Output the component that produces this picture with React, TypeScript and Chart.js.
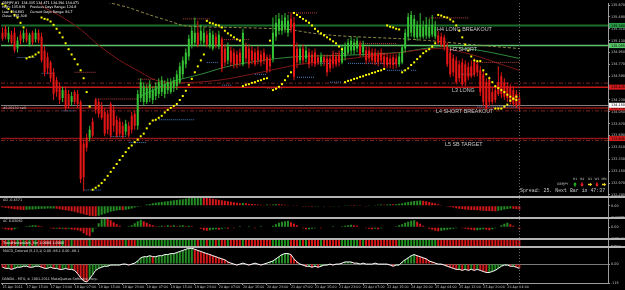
import React, { useEffect, useRef } from "react";
import { Chart, registerables } from "chart.js";

Chart.register(...registerables);

// ---------------- data ----------------
const xTickLabels = [
  "15 Apr 2011", "17 Apr 15:00", "17 Apr 23:00", "18 Apr 07:00", "18 Apr 15:00", "18 Apr 23:00",
  "19 Apr 07:00", "19 Apr 15:00", "19 Apr 23:00", "20 Apr 07:00", "20 Apr 15:00", "20 Apr 23:00",
  "21 Apr 07:00", "21 Apr 15:00", "21 Apr 23:00", "22 Apr 07:00", "22 Apr 15:00", "24 Apr 20:00",
  "25 Apr 04:00", "25 Apr 12:00", "25 Apr 20:00", "26 Apr 04:00",
];
const LABEL_EVERY = 8;
const SLOT_COUNT = 202; // 173 bars + chart shift space
const slotLabels = Array.from({ length: SLOT_COUNT }, (_, i) => String(i));

const barOpen = [
  135.25, 135.31, 135.15, 135.22, 135.25, 135.01, 135.22, 135.16, 135.25, 135.07,
  135.25, 135.15, 135.25, 135.19, 134.98, 134.88, 134.80, 134.65, 134.53, 134.44,
  134.26, 134.38, 134.32, 134.20, 134.35, 134.32, 134.20, 133.57, 133.66, 133.66,
  133.90, 134.23, 134.20, 134.14, 134.05, 134.02, 134.17, 134.08, 133.93, 133.90,
  133.84, 133.75, 133.84, 133.99, 134.02, 133.84, 134.26, 134.20, 134.20, 134.26,
  134.23, 134.29, 134.32, 134.35, 134.32, 134.38, 134.35, 134.41, 134.44, 134.50,
  134.62, 134.77, 134.89, 135.07, 135.10, 135.25, 135.13, 135.10, 135.22, 135.04,
  135.01, 135.19, 135.04, 135.15, 135.01, 134.83, 134.98, 134.95, 134.92, 134.95,
  134.77, 135.04, 135.01, 134.98, 134.95, 134.98, 134.92, 134.95, 134.88, 134.86,
  134.86, 135.19, 135.28, 135.28, 135.31, 135.25, 135.46, 135.40, 135.01, 134.83,
  135.01, 134.86, 134.95, 134.92, 134.95, 134.88, 134.80, 134.88, 134.86, 134.86,
  134.92, 134.89, 134.92, 134.80, 134.89, 134.95, 134.98, 134.98, 135.01, 135.07,
  134.95, 134.98, 134.98, 134.95, 134.95, 134.92, 134.95, 134.89, 134.88, 134.86,
  134.88, 134.86, 134.77, 134.80, 135.01, 135.19, 135.25, 135.19, 135.18, 135.19,
  135.19, 135.21, 135.19, 135.22, 135.19, 135.21, 135.19, 135.18, 135.04, 134.95,
  134.86, 134.83, 134.77, 134.80, 134.77, 134.73, 134.74, 134.80, 134.77, 134.68,
  134.62, 134.50, 134.53, 134.35, 134.38, 134.50, 134.59, 134.50, 134.44, 134.41,
  134.38, 134.32, 134.26,
];
const barHigh = [
  135.33, 135.36, 135.34, 135.28, 135.33, 135.19, 135.28, 135.30, 135.31, 135.25,
  135.28, 135.31, 135.30, 135.25, 135.04, 134.95, 134.83, 134.71, 134.58, 134.50,
  134.43, 134.44, 134.38, 134.35, 134.38, 134.38, 134.23, 133.63, 133.72, 133.84,
  133.96, 134.26, 134.25, 134.20, 134.11, 134.08, 134.20, 134.14, 133.99, 133.96,
  133.90, 133.93, 133.90, 134.05, 134.08, 134.38, 134.56, 134.50, 134.47, 134.53,
  134.44, 134.50, 134.56, 134.59, 134.53, 134.56, 134.56, 134.58, 134.68, 134.80,
  134.89, 135.01, 135.22, 135.34, 135.48, 135.43, 135.37, 135.33, 135.28, 135.31,
  135.28, 135.25, 135.28, 135.19, 135.07, 135.10, 135.04, 135.01, 134.98, 135.01,
  135.31, 135.10, 135.07, 135.04, 135.01, 135.04, 134.98, 135.01, 134.92, 134.92,
  135.48, 135.52, 135.55, 135.52, 135.55, 135.52, 135.54, 135.49, 135.10, 135.07,
  135.07, 135.04, 135.01, 134.98, 135.01, 134.92, 134.95, 134.92, 134.92, 134.92,
  134.98, 134.95, 134.98, 135.07, 135.10, 135.16, 135.19, 135.16, 135.19, 135.13,
  135.13, 135.04, 135.04, 135.01, 135.01, 134.98, 135.01, 134.95, 134.94, 134.92,
  134.92, 134.92, 134.95, 135.07, 135.31, 135.55, 135.58, 135.52, 135.43, 135.55,
  135.43, 135.49, 135.46, 135.52, 135.43, 135.28, 135.25, 135.22, 135.10, 135.01,
  134.92, 134.89, 134.83, 134.86, 134.83, 134.80, 134.83, 134.86, 134.83, 134.74,
  134.68, 134.56, 134.59, 134.41, 134.44, 134.74, 134.65, 134.56, 134.50, 134.47,
  134.44, 134.38, 134.35,
];
const barLow = [
  135.13, 135.15, 135.10, 135.07, 134.95, 134.95, 135.07, 135.10, 135.10, 135.04,
  135.06, 135.10, 135.09, 134.80, 134.59, 134.62, 134.50, 134.23, 134.28, 134.17,
  134.20, 134.08, 134.10, 134.14, 134.16, 134.11, 132.97, 132.85, 133.45, 133.60,
  133.66, 134.02, 133.96, 133.93, 133.68, 133.71, 133.66, 133.75, 133.66, 133.68,
  133.65, 133.69, 133.66, 133.72, 133.78, 133.78, 134.20, 134.14, 134.17, 134.20,
  134.17, 134.23, 134.26, 134.29, 134.26, 134.32, 134.32, 134.35, 134.38, 134.47,
  134.56, 134.71, 134.83, 135.01, 135.04, 135.03, 135.07, 135.04, 135.03, 135.01,
  134.98, 135.01, 135.00, 134.65, 134.74, 134.77, 134.74, 134.71, 134.71, 134.74,
  134.74, 134.80, 134.71, 134.77, 134.74, 134.77, 134.74, 134.77, 134.64, 134.65,
  134.80, 135.13, 135.22, 135.22, 135.25, 135.19, 135.25, 134.53, 134.71, 134.77,
  134.77, 134.80, 134.71, 134.74, 134.73, 134.76, 134.74, 134.74, 134.59, 134.65,
  134.71, 134.73, 134.74, 134.77, 134.83, 134.92, 134.92, 134.92, 134.95, 134.88,
  134.89, 134.77, 134.80, 134.77, 134.76, 134.74, 134.77, 134.71, 134.71, 134.71,
  134.70, 134.71, 134.73, 134.77, 134.95, 135.13, 135.19, 135.16, 135.13, 135.16,
  135.16, 135.16, 135.16, 135.18, 135.15, 135.07, 135.03, 134.98, 134.73, 134.58,
  134.59, 134.47, 134.50, 134.44, 134.44, 134.53, 134.56, 134.58, 134.59, 134.29,
  134.14, 134.08, 134.14, 134.16, 134.19, 134.29, 134.26, 134.23, 134.20, 134.16,
  134.13, 134.11, 134.05,
];
const barClose = [
  135.16, 135.19, 135.25, 135.10, 134.98, 135.13, 135.13, 135.25, 135.13, 135.22,
  135.10, 135.25, 135.13, 134.83, 134.65, 134.71, 134.56, 134.32, 134.35, 134.23,
  134.38, 134.11, 134.14, 134.29, 134.20, 134.17, 133.03, 133.06, 133.51, 133.78,
  133.69, 134.08, 134.02, 133.96, 133.72, 133.78, 133.69, 133.84, 133.69, 133.72,
  133.69, 133.87, 133.69, 133.78, 133.84, 134.32, 134.50, 134.44, 134.41, 134.47,
  134.38, 134.44, 134.50, 134.53, 134.47, 134.50, 134.50, 134.53, 134.62, 134.74,
  134.83, 134.95, 135.16, 135.28, 135.25, 135.07, 135.28, 135.25, 135.07, 135.25,
  135.22, 135.07, 135.22, 134.71, 134.80, 135.04, 134.80, 134.77, 134.77, 134.80,
  135.25, 134.86, 134.77, 134.83, 134.77, 134.83, 134.80, 134.83, 134.68, 134.74,
  135.25, 135.40, 135.46, 135.43, 135.48, 135.43, 135.31, 134.58, 134.80, 135.01,
  134.83, 134.98, 134.77, 134.80, 134.77, 134.80, 134.89, 134.80, 134.65, 134.71,
  134.77, 134.77, 134.80, 135.01, 135.04, 135.10, 135.13, 135.10, 135.13, 134.92,
  135.07, 134.83, 134.86, 134.83, 134.80, 134.80, 134.83, 134.77, 134.76, 134.77,
  134.76, 134.77, 134.89, 135.03, 135.25, 135.49, 135.52, 135.46, 135.37, 135.37,
  135.34, 135.37, 135.34, 135.37, 135.34, 135.10, 135.07, 135.03, 134.77, 134.62,
  134.65, 134.50, 134.56, 134.47, 134.50, 134.58, 134.59, 134.62, 134.65, 134.35,
  134.20, 134.11, 134.20, 134.20, 134.23, 134.32, 134.32, 134.28, 134.26, 134.20,
  134.17, 134.14, 134.15,
];

// Parabolic SAR dots (one per bar)
const sarValues = [
  135.69, 135.66, 135.61, 135.57, 135.52, 135.48, 135.40, 135.33, 134.86, 134.88,
  134.89, 134.92, 134.95, 135.48, 135.46, 135.45, 135.42, 135.37, 135.31, 135.25,
  135.18, 135.09, 135.00, 134.92, 134.85, 134.77, 134.68, 134.56, 134.35, 134.13,
  132.87, 132.90, 132.93, 132.97, 133.02, 133.08, 133.14, 133.20, 133.26, 133.32,
  133.38, 133.44, 133.50, 133.54, 133.59, 133.63, 133.68, 133.72, 133.80, 133.87,
  133.92, 133.93, 133.96, 133.99, 134.04, 134.08, 134.11, 134.14, 134.17, 134.23,
  134.29, 134.37, 134.46, 134.55, 134.65, 134.74, 134.83, 134.92, 135.43, 135.40,
  135.39, 135.37, 135.36, 135.33, 135.28, 135.24, 135.21, 135.18, 135.15, 135.13,
  134.44, 134.46, 134.47, 134.49, 134.50, 134.52, 134.53, 134.55, 134.56, 135.13,
  134.38, 134.40, 134.43, 134.47, 134.53, 134.59, 134.65, 135.55, 135.52, 135.49,
  135.46, 135.43, 135.40, 135.36, 135.31, 135.27, 135.24, 135.21, 135.18, 135.15,
  135.12, 135.09, 135.04, 135.00, 134.50, 134.52, 134.53, 134.55, 134.56, 134.58,
  134.59, 134.61, 134.62, 134.64, 134.65, 134.67, 134.68, 134.70, 135.36, 135.34,
  135.33, 135.31, 135.30, 134.65, 134.68, 134.71, 134.76, 134.80, 134.85, 134.89,
  134.94, 134.97, 135.00, 135.04, 135.09, 135.52, 135.51, 135.49, 135.48, 135.45,
  135.42, 135.36, 135.28, 135.18, 135.07, 134.98, 134.89, 134.83, 134.82, 134.82,
  134.68, 134.62, 134.56, 134.50, 134.44, 134.41, 134.38, 134.35, 134.31, 134.28,
  134.25, 134.23, null,
];
const sar2Bars = [164, 165, 166, 167, 168, 169, 170, 171];
const sar2Values = [134.10, 134.10, 134.10, 134.13, 134.16, 134.22, 134.25, 134.28];

// moving averages (readings at bar indexes)
const maSlowBars = [30, 36, 42, 49, 56, 60, 66, 77, 95, 102, 110, 117, 132, 142, 156, 172];
const maSlowValues = [135.76, 135.70, 135.63, 135.52, 135.42, 135.36, 135.34, 135.33, 135.30, 135.25, 135.21, 135.19, 135.16, 135.13, 135.07, 135.01];
const maMidBars = [12, 14, 19, 26, 32, 39, 46, 51, 58, 72, 86, 99, 116, 132, 146, 156, 166, 172];
const maMidValues = [135.72, 135.63, 135.51, 135.30, 135.06, 134.83, 134.65, 134.53, 134.49, 134.53, 134.65, 134.77, 134.86, 134.95, 135.01, 134.92, 134.77, 134.68];
const maFastBars = [46, 56, 66, 77, 96, 115, 132, 139, 147, 159, 172];
const maFastValues = [134.29, 134.50, 134.62, 134.76, 134.88, 134.91, 134.95, 135.00, 135.04, 134.98, 134.86];

// fractal support / resistance dotted segments
const fractalFrom = [5, 13, 24, 20, 31, 36, 42, 27, 52, 45, 60, 73, 68, 73, 84, 88, 95, 98, 105, 109, 110, 115, 116, 128, 136, 142, 152, 157, 158];
const fractalTo = [11, 17, 31, 24, 45, 41, 48, 33, 64, 51, 69, 82, 72, 76, 88, 93, 105, 104, 109, 113, 115, 132, 131, 134, 138, 155, 157, 172, 172];
const fractalPrice = [134.875, 134.635, 134.65, 134.065, 134.245, 133.675, 133.585, 132.865, 133.93, 134.545, 135.46, 135.145, 134.80, 134.455, 134.62, 134.41, 135.55, 134.575, 134.785, 134.50, 134.935, 134.785, 135.085, 134.68, 134.68, 135.475, 134.62, 134.80, 134.125];
const fractalSide = ["b", "b", "r", "b", "r", "b", "b", "b", "b", "r", "r", "r", "b", "b", "b", "r", "r", "b", "b", "b", "r", "b", "r", "b", "b", "r", "b", "r", "b"];

// oscillators
const aoValues = [
  -0.15, -0.20, -0.25, -0.30, -0.35, -0.38, -0.40, -0.42, -0.40, -0.38,
  -0.36, -0.34, -0.32, -0.30, -0.29, -0.28, -0.27, -0.26, -0.30, -0.35,
  -0.40, -0.45, -0.50, -0.55, -0.60, -0.68, -0.76, -0.84, -0.92, -0.98,
  -1.02, -1.05, -0.98, -0.90, -0.80, -0.70, -0.60, -0.52, -0.46, -0.42,
  -0.44, -0.40, -0.34, -0.26, -0.18, -0.10, -0.02, 0.06, 0.12, 0.18,
  0.24, 0.29, 0.34, 0.38, 0.42, 0.46, 0.50, 0.54, 0.58, 0.62,
  0.66, 0.70, 0.74, 0.78, 0.82, 0.85, 0.87, 0.84, 0.80, 0.75,
  0.70, 0.65, 0.60, 0.55, 0.50, 0.45, 0.40, 0.35, 0.30, 0.26,
  0.28, 0.24, 0.20, 0.18, 0.15, 0.12, 0.10, 0.08, 0.12, 0.09,
  0.13, 0.16, 0.14, 0.12, 0.10, 0.08, 0.06, 0.04, 0.02, 0.00,
  -0.03, -0.06, -0.08, -0.10, -0.08, -0.06, -0.04, -0.03, -0.05, -0.07,
  -0.06, -0.04, -0.02, 0.00, 0.02, 0.03, 0.02, 0.01, 0.03, 0.02,
  0.00, -0.02, 0.02, 0.05, 0.08, 0.10, 0.12, 0.10, 0.13, 0.15,
  0.14, 0.16, 0.20, 0.26, 0.32, 0.38, 0.43, 0.48, 0.50, 0.52,
  0.49, 0.44, 0.38, 0.31, 0.24, 0.16, 0.08, 0.00, -0.06, -0.12,
  -0.18, -0.24, -0.29, -0.33, -0.36, -0.39, -0.41, -0.43, -0.45, -0.47,
  -0.49, -0.51, -0.53, -0.54, -0.55, -0.50, -0.44, -0.38, -0.32, -0.28,
  -0.30, -0.33, -0.36,
];
const acValues = [
  -0.015, -0.030, -0.038, -0.045, -0.030, -0.015, -0.008, 0.008, 0.015, 0.023,
  0.030, 0.030, 0.023, 0.015, 0.008, -0.008, -0.015, -0.023, -0.018, -0.027,
  -0.021, -0.030, -0.024, -0.033, -0.038, -0.045, -0.060, -0.090, -0.120, -0.135,
  -0.075, -0.015, 0.060, 0.120, 0.140, 0.135, 0.105, 0.075, 0.045, 0.023,
  0.008, 0.008, 0.015, 0.030, 0.060, 0.090, 0.113, 0.090, 0.068, 0.045,
  0.030, 0.015, 0.015, 0.023, 0.015, 0.030, 0.023, 0.030, 0.015, 0.023,
  0.030, 0.015, 0.023, 0.015, 0.008, 0.000, -0.023, -0.045, -0.053, -0.045,
  -0.038, -0.030, -0.038, -0.023, -0.015, -0.023, -0.008, -0.015, 0.008, 0.015,
  -0.008, 0.008, 0.015, -0.008, -0.015, 0.008, 0.015, 0.008, -0.008, 0.008,
  0.023, 0.045, 0.068, 0.083, 0.090, 0.098, 0.075, 0.053, 0.030, 0.008,
  -0.015, -0.030, -0.030, -0.023, -0.015, -0.008, -0.015, 0.008, -0.008, 0.008,
  0.015, -0.008, 0.008, 0.015, 0.023, 0.030, 0.038, 0.030, 0.023, 0.008,
  -0.008, -0.015, -0.023, -0.030, -0.023, -0.030, -0.015, -0.008, 0.008, -0.008,
  0.008, 0.015, 0.030, 0.045, 0.068, 0.083, 0.098, 0.105, 0.083, 0.053,
  0.023, -0.008, -0.023, -0.038, -0.053, -0.060, -0.053, -0.045, -0.038, -0.030,
  -0.023, -0.015, -0.008, -0.015, -0.023, -0.030, -0.038, -0.045, -0.045, -0.038,
  -0.030, -0.038, -0.045, -0.030, -0.015, 0.008, 0.030, 0.053, 0.068, 0.045,
  0.023, -0.008, -0.030,
];
const macdValues = [
  -19, -26, -26, -32, -26, -19, -19, -13, -13, -19,
  -19, -13, -13, -19, -26, -26, -19, -26, -26, -32,
  -32, -26, -32, -32, -38, -58, -83, -102, -109, -90,
  -64, -38, -26, -19, -13, -13, -6, -6, -6, -6,
  0, 0, -6, 0, 6, 19, 38, 45, 45, 51,
  45, 45, 51, 51, 58, 58, 64, 64, 70, 77,
  83, 90, 96, 96, 90, 83, 77, 70, 64, 58,
  51, 45, 38, 32, 26, 13, 6, 0, -6, 0,
  6, 0, -6, 0, 6, 0, -6, 0, 6, 13,
  19, 32, 45, 58, 64, 64, 58, 32, 13, 0,
  -6, -13, -13, -19, -13, -19, -13, -6, -6, 0,
  -6, 0, 0, 6, 13, 13, 13, 6, 6, 0,
  6, 0, 0, 0, 6, 0, 0, 0, 0, -6,
  -13, -6, -6, 13, 26, 38, 51, 58, 51, 45,
  38, 32, 19, 13, 6, 0, 0, -6, -13, -19,
  -26, -32, -32, -38, -32, -38, -32, -38, -32, -38,
  -45, -51, -51, -45, -38, -26, -13, -6, -6, -13,
  -13, -19, -26,
];

// axis ticks
const priceTicks = [135.67, 135.49, 135.31, 135.13, 134.95, 134.77, 134.59, 134.41, 134.23, 134.05, 133.87, 133.69, 133.51, 133.33, 133.15, 132.97, 132.79];
const aoTicks = [0.8779, 0, -1.1836];
const aoTickLabels = ["0.8779", "0.00", "-1.1836"];
const acTicks = [0.14496, 0, -0.18438];
const acTickLabels = ["0.14496", "0.00", "-0.18438"];
const trendTicks = [1, 0];
const trendTickLabels = ["1.00", "0.00"];
const macdTicks = [101.7, 0, -115];
const macdTickLabels = ["101.7", "0.00", "-115"];

// pivot levels
const pivotPrices = [135.36, 135.055, 134.485, 134.425, 134.11, 134.065, 133.645, 133.615];
const pivotLabels = ["H4 LONG BREAKOUT", "H3 SHORT", "L3 LONG", "L4 SHORT BREAKOUT", "L5 SB TARGET"];
const pivotLabelPrices = [135.36, 135.055, 134.425, 134.11, 133.615];
const orderText = "#120132 sell";
const orderPrice = 134.11;

const headerLines = [
  ["GBPJPY,H1  134.335 134.471 134.296 134.471", ""],
  ["High: 135.939", "Previous Days Range: 124.8"],
  ["Low: 134.891", "Current Days Range: 86.7"],
  ["Close: 135.308", ""],
];
const panelTexts = {
  ao: "AO -0.4371",
  ac: "AC 0.03062",
  trend: "TrendHeikenAshi_Sm 1.0000 1.0000",
  macd: "MACD_Colored (5,13,1) 0.00 -86.1 0.00 -86.1",
  copy: "OANDA - MT4, \u00a9 2001-2011 MetaQuotes Software Corp.",
};
const tfNames = ["H1", "H4", "D1", "W1", "MN"];
const tfSignals = ["up", "down", "flat", "down", "flat"];
const widgetSymbol = "GBPJPY";
const spreadText = "Spread: 25. Next Bar in 47:37";

// ---------------- styles ----------------
const UP = "#35c235";
const DOWN = "#e51616";
const OSC_UP = "#258c25";
const OSC_DOWN = "#d21818";
const AXIS = "#9c9c9c";
const TXT = "#c4c4c4";
const tickFont = { size: 3.4, family: "DejaVu Sans" };
const PIVOT_STYLE = [
  { color: "#1c6e2c", width: 2, dash: [] as number[] },
  { color: "#5cc46a", width: 1.5, dash: [] as number[] },
  { color: "#7d2222", width: 1, dash: [4, 2, 1, 2] },
  { color: "#c81818", width: 1.5, dash: [] as number[] },
  { color: "#8e1616", width: 1.5, dash: [] as number[] },
  { color: "#7d2222", width: 1, dash: [4, 2, 1, 2] },
  { color: "#8e1616", width: 1.5, dash: [] as number[] },
  { color: "#7d2222", width: 1, dash: [4, 2, 1, 2] },
];
const PIVOT_LABEL_X = [437, 450, 452, 436, 445];
const AXIS_BOXES = [
  { price: 135.36, bg: "#2a9a45" },
  { price: 135.055, bg: "#57c867" },
  { price: 134.425, bg: "#d41a1a" },
  { price: 134.11, bg: "#d41a1a" },
  { price: 133.645, bg: "#d41a1a" },
];

const candleUp = barClose.map((c, i) => c >= barOpen[i]);
const changeColors = (vals: number[]) =>
  vals.map((v, i) => (i === 0 ? OSC_DOWN : v >= vals[i - 1] ? OSC_UP : OSC_DOWN));

function yAxis(weight: number, min: number, max: number, ticks: number[], labels: string[]) {
  return {
    type: "linear",
    position: "right",
    stack: "panes",
    stackWeight: weight,
    min,
    max,
    grid: { display: true, drawOnChartArea: false, drawTicks: true, tickLength: 2, color: AXIS },
    border: { display: true, color: AXIS },
    ticks: {
      color: TXT,
      font: tickFont,
      padding: 1,
      autoSkip: false,
      callback: (v: number) => {
        const k = ticks.findIndex((t) => Math.abs(t - v) < 1e-9);
        return k >= 0 ? labels[k] : "";
      },
    },
    afterBuildTicks: (s: any) => {
      s.ticks = ticks.map((v) => ({ value: v }));
    },
    afterFit: (s: any) => {
      s.width = 17;
    },
  };
}

const mt4Plugin = {
  id: "mt4Overlay",
  beforeDraw(chart: any) {
    const { ctx, width, height } = chart;
    ctx.save();
    ctx.fillStyle = "#000000";
    ctx.fillRect(0, 0, width, height);
    ctx.restore();
  },
  beforeDatasetsDraw(chart: any) {
    const { ctx, chartArea, scales } = chart;
    const y = scales.yMain;
    ctx.save();
    pivotPrices.forEach((p, k) => {
      const st = PIVOT_STYLE[k];
      const py = y.getPixelForValue(p);
      ctx.strokeStyle = st.color;
      ctx.lineWidth = st.width;
      ctx.setLineDash(st.dash);
      ctx.beginPath();
      ctx.moveTo(chartArea.left, py);
      ctx.lineTo(chartArea.right, py);
      ctx.stroke();
    });
    // bid line
    const bid = barClose[barClose.length - 1];
    const by = Math.round(y.getPixelForValue(bid)) + 0.5;
    ctx.setLineDash([]);
    ctx.strokeStyle = "#808080";
    ctx.lineWidth = 1;
    ctx.beginPath();
    ctx.moveTo(chartArea.left, by);
    ctx.lineTo(chartArea.right, by);
    ctx.stroke();
    // MACD zero level
    const m = scales.yMACD;
    const zy = Math.round(m.getPixelForValue(0)) + 0.5;
    ctx.strokeStyle = "#7a7a7a";
    ctx.beginPath();
    ctx.moveTo(chartArea.left, zy);
    ctx.lineTo(chartArea.right, zy);
    ctx.stroke();
    ctx.restore();
  },
  afterDatasetsDraw(chart: any) {
    const { ctx, chartArea, scales } = chart;
    const y = scales.yMain;
    ctx.save();
    // current bar dotted vertical line
    const vx = Math.round(scales.x.getPixelForValue(barClose.length - 1)) + 0.5;
    ctx.strokeStyle = "#6c6c6c";
    ctx.lineWidth = 1;
    ctx.setLineDash([1, 2]);
    ctx.beginPath();
    ctx.moveTo(vx, chartArea.top);
    ctx.lineTo(vx, chartArea.bottom);
    ctx.stroke();
    ctx.setLineDash([]);

    // pivot labels
    ctx.font = '5.4px "Liberation Sans"';
    ctx.fillStyle = "#c8c8c8";
    ctx.textBaseline = "top";
    ctx.textAlign = "left";
    pivotLabels.forEach((t, k) => {
      ctx.fillText(t, PIVOT_LABEL_X[k], y.getPixelForValue(pivotLabelPrices[k]) + 0.9);
    });
    ctx.font = '3.4px "DejaVu Sans"';
    ctx.textBaseline = "middle";
    ctx.fillText(orderText, 3, y.getPixelForValue(orderPrice) + 0.6);

    // header
    ctx.font = '3.3px "DejaVu Sans"';
    ctx.fillStyle = "#ffffff";
    ctx.textBaseline = "middle";
    headerLines.forEach((row, k) => {
      const ly = 3.3 + k * 4.3;
      ctx.fillText(row[0], 2, ly);
      if (row[1]) ctx.fillText(row[1], 30, ly);
    });

    // panel titles
    ctx.font = '3.4px "DejaVu Sans"';
    ctx.fillStyle = "#d8d8d8";
    ctx.fillText(panelTexts.ao, 3, scales.yAO.top + 3);
    ctx.fillText(panelTexts.ac, 3, scales.yAC.top + 3);
    ctx.fillStyle = "#ffffff";
    ctx.fillText(panelTexts.trend, 3, (scales.yTrend.top + scales.yTrend.bottom) / 2);
    ctx.fillStyle = "#d8d8d8";
    ctx.fillText(panelTexts.macd, 3, scales.yMACD.top + 4);
    ctx.fillText(panelTexts.copy, 2, scales.yMACD.bottom - 3.5);

    // timeframe widget
    const tfX = [575, 582, 590, 597, 604];
    ctx.textAlign = "center";
    ctx.font = '3px "DejaVu Sans"';
    ctx.fillStyle = "#c8c8c8";
    tfNames.forEach((n, k) => ctx.fillText(n, tfX[k], 179.5));
    ctx.textAlign = "left";
    ctx.font = '3.2px "DejaVu Sans"';
    ctx.fillText(widgetSymbol, 557, 184.5);
    tfSignals.forEach((s, k) => {
      const cx = tfX[k];
      const cy = 184.5;
      ctx.beginPath();
      if (s === "up") {
        ctx.fillStyle = "#22c022";
        ctx.moveTo(cx, cy - 2.2);
        ctx.lineTo(cx + 1.8, cy);
        ctx.lineTo(cx + 0.7, cy);
        ctx.lineTo(cx + 0.7, cy + 2);
        ctx.lineTo(cx - 0.7, cy + 2);
        ctx.lineTo(cx - 0.7, cy);
        ctx.lineTo(cx - 1.8, cy);
      } else if (s === "down") {
        ctx.fillStyle = "#ff2020";
        ctx.moveTo(cx, cy + 2.2);
        ctx.lineTo(cx + 1.8, cy);
        ctx.lineTo(cx + 0.7, cy);
        ctx.lineTo(cx + 0.7, cy - 2);
        ctx.lineTo(cx - 0.7, cy - 2);
        ctx.lineTo(cx - 0.7, cy);
        ctx.lineTo(cx - 1.8, cy);
      } else {
        ctx.fillStyle = "#f2e020";
        ctx.moveTo(cx + 2.2, cy);
        ctx.lineTo(cx, cy - 1.8);
        ctx.lineTo(cx, cy - 0.7);
        ctx.lineTo(cx - 2, cy - 0.7);
        ctx.lineTo(cx - 2, cy + 0.7);
        ctx.lineTo(cx, cy + 0.7);
        ctx.lineTo(cx, cy + 1.8);
      }
      ctx.closePath();
      ctx.fill();
    });
    ctx.font = '4.9px "Liberation Mono"';
    ctx.fillStyle = "#c8c8c8";
    ctx.textBaseline = "middle";
    ctx.fillText(spreadText, 520, 191);
    ctx.restore();
  },
  afterDraw(chart: any) {
    const { ctx, chartArea, scales, width } = chart;
    const y = scales.yMain;
    ctx.save();
    // panel separators
    ctx.fillStyle = "#b4b4b4";
    [scales.yAO.top, scales.yAC.top, scales.yTrend.top, scales.yMACD.top].forEach((sy: number) => {
      ctx.fillRect(0, Math.round(sy) - 1, width, 2);
    });
    // price boxes on axis
    const boxes = [...AXIS_BOXES, { price: barClose[barClose.length - 1], bg: "#ffffff" }];
    ctx.font = '3.4px "DejaVu Sans"';
    ctx.textBaseline = "middle";
    ctx.textAlign = "left";
    boxes.forEach((b) => {
      const py = y.getPixelForValue(b.price);
      ctx.fillStyle = b.bg;
      ctx.fillRect(chartArea.right + 1, py - 2.5, width - chartArea.right - 1, 5);
      ctx.fillStyle = "#000000";
      ctx.fillText(b.price.toFixed(3), chartArea.right + 3, py + 0.2);
    });
    ctx.restore();
  },
};

function buildConfig() {
  const fractalSets = fractalFrom.map((f, k) => ({
    type: "line",
    label: "fractal" + k,
    data: [
      { x: slotLabels[f], y: fractalPrice[k] },
      { x: slotLabels[fractalTo[k]], y: fractalPrice[k] },
    ],
    yAxisID: "yMain",
    borderColor: fractalSide[k] === "r" ? "#b44040" : "#4a82c0",
    borderWidth: 1,
    borderDash: [1, 1],
    pointRadius: 0,
    order: 15,
  }));
  const maSet = (bars: number[], vals: number[], color: string, dash: number[]) => ({
    type: "line",
    data: bars.map((b, i) => ({ x: slotLabels[b], y: vals[i] })),
    yAxisID: "yMain",
    borderColor: color,
    borderWidth: 1,
    borderDash: dash,
    pointRadius: 0,
    tension: 0.3,
    order: 20,
  });
  return {
    type: "bar",
    data: {
      labels: slotLabels,
      datasets: [
        { label: "MA slow", ...maSet(maSlowBars, maSlowValues, "#8e8a48", [3, 2]) },
        { label: "MA mid", ...maSet(maMidBars, maMidValues, "#7e1717", []) },
        { label: "MA fast", ...maSet(maFastBars, maFastValues, "#2f8a3a", []) },
        ...fractalSets,
        {
          type: "bar",
          label: "Wicks",
          data: barLow.map((l, i) => [l, barHigh[i]]),
          yAxisID: "yMain",
          grouped: false,
          barThickness: 1,
          inflateAmount: 0,
          backgroundColor: candleUp.map((u) => (u ? UP : DOWN)),
          order: 10,
        },
        {
          type: "bar",
          label: "Bodies",
          data: barOpen.map((o, i) => [o, barClose[i]]),
          yAxisID: "yMain",
          grouped: false,
          barThickness: 2,
          minBarLength: 1,
          inflateAmount: 0,
          backgroundColor: candleUp.map((u) => (u ? UP : DOWN)),
          order: 9,
        },
        {
          type: "line",
          label: "Parabolic SAR",
          data: sarValues,
          yAxisID: "yMain",
          showLine: false,
          pointStyle: "rect",
          pointRadius: 1.4,
          pointBorderWidth: 0,
          pointBackgroundColor: "#ffff00",
          order: 1,
        },
        {
          type: "line",
          label: "SAR 2",
          data: sar2Bars.map((b, i) => ({ x: slotLabels[b], y: sar2Values[i] })),
          yAxisID: "yMain",
          showLine: false,
          pointStyle: "rect",
          pointRadius: 1.4,
          pointBorderWidth: 0,
          pointBackgroundColor: "#ffff00",
          order: 1,
        },
        {
          type: "bar",
          label: "AO",
          data: aoValues,
          yAxisID: "yAO",
          grouped: false,
          barThickness: 2,
          inflateAmount: 0,
          backgroundColor: changeColors(aoValues),
          order: 5,
        },
        {
          type: "bar",
          label: "AC",
          data: acValues,
          yAxisID: "yAC",
          grouped: false,
          barThickness: 2,
          inflateAmount: 0,
          backgroundColor: changeColors(acValues),
          order: 5,
        },
        {
          type: "bar",
          label: "Trend",
          data: candleUp.map(() => [0, 1]),
          yAxisID: "yTrend",
          grouped: false,
          barThickness: 2,
          inflateAmount: 0,
          backgroundColor: candleUp.map((u) => (u ? "#1f8f1f" : "#d61818")),
          order: 5,
        },
        {
          type: "bar",
          label: "MACD hist",
          data: macdValues,
          yAxisID: "yMACD",
          grouped: false,
          barThickness: 2,
          inflateAmount: 0,
          backgroundColor: changeColors(macdValues),
          order: 5,
        },
        {
          type: "line",
          label: "MACD",
          data: macdValues,
          yAxisID: "yMACD",
          borderColor: "#ffffff",
          borderWidth: 1,
          pointRadius: 0,
          order: 0,
        },
      ],
    },
    options: {
      responsive: false,
      maintainAspectRatio: false,
      animation: false,
      devicePixelRatio: 1,
      events: [],
      layout: { padding: { left: 1, right: 0, top: 0, bottom: 0 }, autoPadding: false },
      plugins: { legend: { display: false }, tooltip: { enabled: false }, title: { display: false } },
      scales: {
        x: {
          type: "category",
          offset: true,
          grid: { display: true, drawOnChartArea: false, drawTicks: true, tickLength: 2, color: AXIS, offset: false },
          border: { display: true, color: AXIS },
          ticks: {
            autoSkip: false,
            maxRotation: 0,
            minRotation: 0,
            align: "start",
            padding: 0.5,
            color: TXT,
            font: { size: 3.3, family: "DejaVu Sans" },
            callback: (v: number) => xTickLabels[Math.round(v / LABEL_EVERY)] ?? "",
          },
          afterBuildTicks: (s: any) => {
            s.ticks = s.ticks.filter(
              (t: any) => t.value % LABEL_EVERY === 0 && t.value / LABEL_EVERY < xTickLabels.length
            );
          },
          afterFit: (s: any) => {
            s.height = 7;
          },
        },
        yMain: yAxis(196, 132.76, 135.7, priceTicks, priceTicks.map((p) => p.toFixed(3))),
        yAO: yAxis(21, -1.1836, 0.8779, aoTicks, aoTickLabels),
        yAC: yAxis(22, -0.18438, 0.14496, acTicks, acTickLabels),
        yTrend: yAxis(8, 0, 1, trendTicks, trendTickLabels),
        yMACD: yAxis(36, -115, 101.7, macdTicks, macdTickLabels),
      },
    },
    plugins: [mt4Plugin],
  };
}

export default function App() {
  const canvasRef = useRef<HTMLCanvasElement | null>(null);
  useEffect(() => {
    if (!canvasRef.current) return;
    const chart = new Chart(canvasRef.current, buildConfig() as any);
    return () => chart.destroy();
  }, []);
  return (
    <div
      style={{
        position: "fixed",
        left: 0,
        top: 0,
        width: 625,
        height: 290,
        background: "#000",
        overflow: "hidden",
      }}
    >
      <canvas ref={canvasRef} width={625} height={290} style={{ display: "block", width: 625, height: 290 }} />
    </div>
  );
}
